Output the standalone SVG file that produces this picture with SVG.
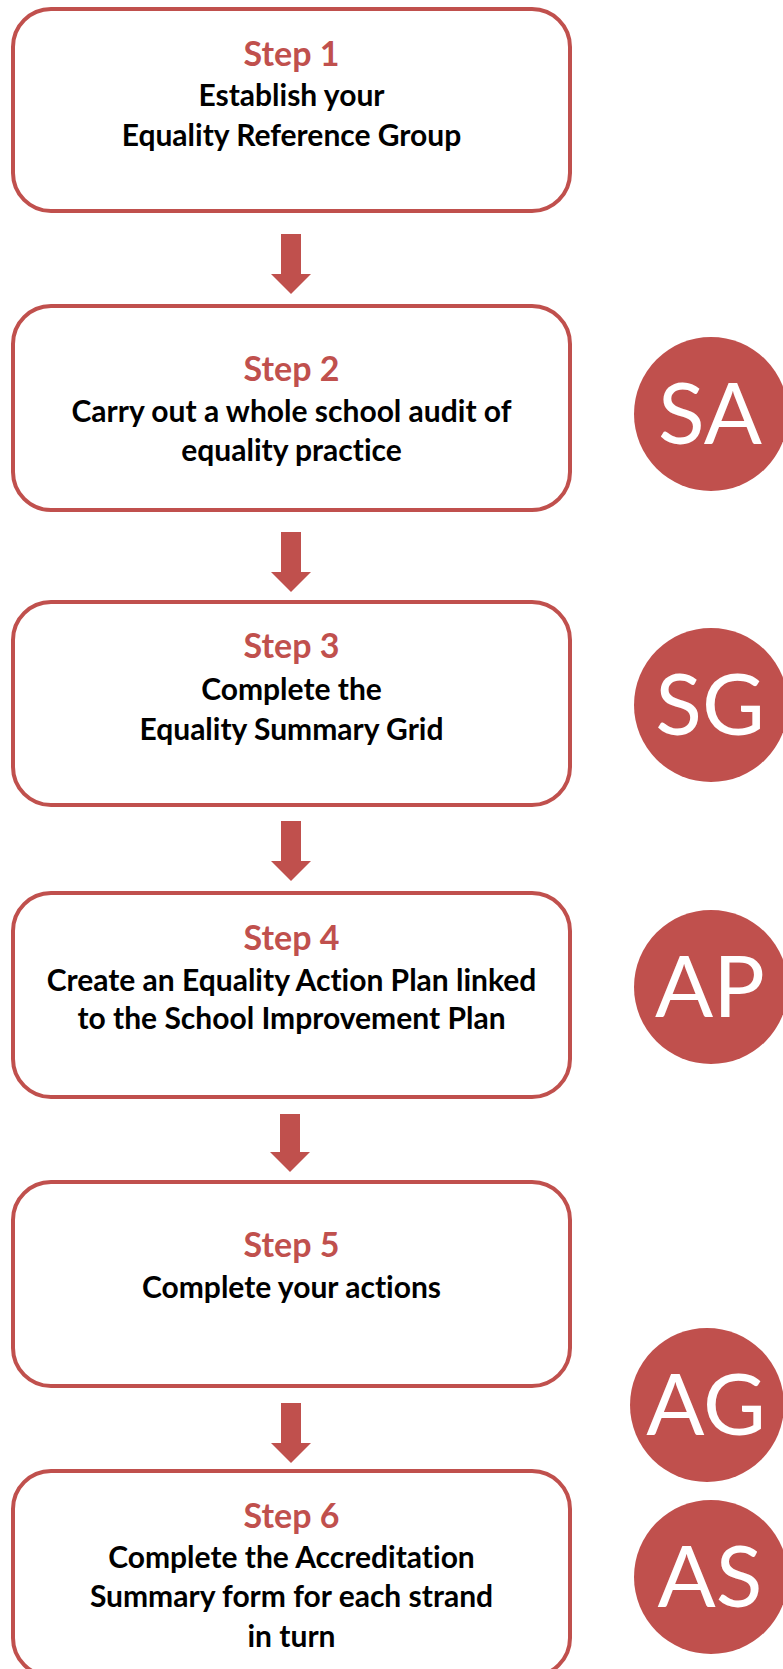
<svg xmlns="http://www.w3.org/2000/svg" width="783" height="1669" viewBox="0 0 783 1669">
<style>
.box{fill:#ffffff;stroke:#C0504D;stroke-width:4}
.step{font-family:Lato,"Liberation Sans",sans-serif;font-weight:bold;font-size:34px;fill:#C0504D;text-anchor:middle;font-variant-ligatures:none}
.body{font-family:Lato,"Liberation Sans",sans-serif;font-weight:bold;font-size:30px;fill:#000000;text-anchor:middle;font-variant-ligatures:none}
.circ{fill:#C0504D}
.ctext{font-family:Lato,"Liberation Sans",sans-serif;font-size:86px;fill:#ffffff;text-anchor:middle}
.arrow{fill:#C0504D}
</style>
<rect width="783" height="1669" fill="#ffffff"/>
<g id="step1">
<rect class="box" x="13" y="9" width="557" height="202" rx="38"/>
<text class="step" x="291.5" y="66">Step 1</text>
<text class="body" x="291.5" y="106">Establish your</text>
<text class="body" x="291.5" y="146">Equality Reference Group</text>
</g>
<g id="step2">
<rect class="box" x="13" y="306" width="557" height="204" rx="38"/>
<text class="step" x="291.5" y="381">Step 2</text>
<text class="body" x="291.5" y="422">Carry out a whole school audit of</text>
<text class="body" x="291.5" y="461">equality practice</text>
</g>
<g id="step3">
<rect class="box" x="13" y="602" width="557" height="203" rx="38"/>
<text class="step" x="291.5" y="658">Step 3</text>
<text class="body" x="291.5" y="700">Complete the</text>
<text class="body" x="291.5" y="740">Equality Summary Grid</text>
</g>
<g id="step4">
<rect class="box" x="13" y="893" width="557" height="204" rx="38"/>
<text class="step" x="291.5" y="950">Step 4</text>
<text class="body" x="291.5" y="991">Create an Equality Action Plan linked</text>
<text class="body" x="291.5" y="1029">to the School Improvement Plan</text>
</g>
<g id="step5">
<rect class="box" x="13" y="1182" width="557" height="204" rx="38"/>
<text class="step" x="291.5" y="1257">Step 5</text>
<text class="body" x="291.5" y="1298">Complete your actions</text>
</g>
<g id="step6">
<rect class="box" x="13" y="1471" width="557" height="205" rx="38"/>
<text class="step" x="291.5" y="1528">Step 6</text>
<text class="body" x="291.5" y="1568">Complete the Accreditation</text>
<text class="body" x="291.5" y="1607">Summary form for each strand</text>
<text class="body" x="291.5" y="1647">in turn</text>
</g>
<g id="sa">
<circle class="circ" cx="711" cy="414" r="77"/>
<text class="ctext" x="710" y="444">SA</text>
</g>
<g id="sg">
<circle class="circ" cx="711" cy="705" r="77"/>
<text class="ctext" x="710" y="735">SG</text>
</g>
<g id="ap">
<circle class="circ" cx="711" cy="987" r="77"/>
<text class="ctext" x="710" y="1017">AP</text>
</g>
<g id="ag">
<circle class="circ" cx="707" cy="1405" r="77"/>
<text class="ctext" x="706" y="1435">AG</text>
</g>
<g id="as">
<circle class="circ" cx="711" cy="1577" r="77"/>
<text class="ctext" x="710" y="1607">AS</text>
</g>
<g id="connectors">
<polygon class="arrow" points="281,234 301,234 301,274 311,274 291,294 271,274 281,274"/>
<polygon class="arrow" points="281,532 301,532 301,572 311,572 291,592 271,572 281,572"/>
<polygon class="arrow" points="281,821 301,821 301,861 311,861 291,881 271,861 281,861"/>
<polygon class="arrow" points="280,1114 300,1114 300,1152 310,1152 290,1172 270,1152 280,1152"/>
<polygon class="arrow" points="281,1403 301,1403 301,1443 311,1443 291,1463 271,1443 281,1443"/>
</g>
</svg>
